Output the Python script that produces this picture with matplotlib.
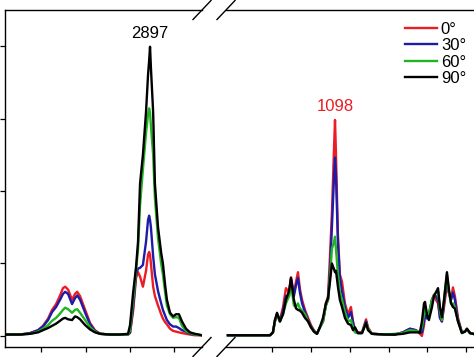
import matplotlib
matplotlib.use("Agg")
import matplotlib.pyplot as plt

plt.rcParams['font.family'] = ['Liberation Sans', 'DejaVu Sans']

# C-H stretching region (left panel), wavenumber / cm-1
ch_wn = [2238, 2305, 2350, 2386, 2408, 2431, 2449, 2467, 2485, 2498,
         2508, 2521, 2539, 2552, 2562, 2575, 2598, 2620, 2642, 2665,
         2710, 2755, 2791, 2800, 2814, 2827, 2836, 2845, 2858, 2872,
         2881, 2886, 2890, 2894, 2904, 2912, 2926, 2940, 2948, 2958,
         2966, 2980, 2994, 3007, 3020, 3034, 3052, 3070, 3092, 3124]
ch_0 = [0.02, 0.02, 0.04, 0.08, 0.14, 0.24, 0.36, 0.44, 0.56, 0.66,
        0.68, 0.64, 0.50, 0.58, 0.61, 0.55, 0.36, 0.18, 0.08, 0.03,
        0.02, 0.02, 0.02, 0.04, 0.35, 0.80, 0.88, 0.82, 0.68, 0.90,
        1.12, 1.16, 1.12, 1.00, 0.68, 0.55, 0.42, 0.30, 0.24, 0.19,
        0.16, 0.10, 0.07, 0.06, 0.05, 0.04, 0.03, 0.02, 0.01, 0.01]
ch_30 = [0.02, 0.02, 0.04, 0.08, 0.13, 0.22, 0.33, 0.40, 0.50, 0.58,
         0.61, 0.58, 0.44, 0.52, 0.56, 0.50, 0.32, 0.16, 0.07, 0.03,
         0.02, 0.02, 0.02, 0.05, 0.40, 0.85, 0.93, 0.94, 0.98, 1.30,
         1.60, 1.66, 1.60, 1.50, 1.10, 0.85, 0.62, 0.45, 0.36, 0.28,
         0.22, 0.16, 0.13, 0.13, 0.11, 0.08, 0.06, 0.03, 0.02, 0.01]
ch_60 = [0.02, 0.02, 0.03, 0.06, 0.10, 0.15, 0.21, 0.25, 0.31, 0.36,
         0.39, 0.37, 0.32, 0.36, 0.37, 0.32, 0.22, 0.12, 0.06, 0.03,
         0.02, 0.02, 0.02, 0.08, 0.50, 0.90, 1.20, 1.80, 2.30, 2.80,
         3.05, 3.14, 3.08, 2.90, 2.50, 1.90, 1.35, 1.00, 0.85, 0.60,
         0.42, 0.30, 0.25, 0.26, 0.25, 0.14, 0.07, 0.04, 0.02, 0.01]
ch_90 = [0.02, 0.02, 0.03, 0.05, 0.08, 0.11, 0.14, 0.17, 0.21, 0.24,
         0.25, 0.23, 0.22, 0.27, 0.26, 0.23, 0.15, 0.09, 0.05, 0.03,
         0.02, 0.02, 0.03, 0.15, 0.60, 0.95, 1.30, 2.10, 2.50, 3.09,
         3.60, 3.80, 3.99, 3.70, 3.09, 2.10, 1.50, 1.15, 1.00, 0.70,
         0.50, 0.32, 0.27, 0.30, 0.30, 0.20, 0.10, 0.05, 0.03, 0.01]

# fingerprint region (right panel)
fp_wn = [572, 686, 789, 804, 814, 825, 840, 856, 871, 887,
         897, 912, 923, 933, 943, 954, 969, 985, 1000, 1015,
         1031, 1046, 1062, 1077, 1088, 1098, 1108, 1119, 1124, 1129,
         1139, 1149, 1160, 1175, 1191, 1206, 1217, 1227, 1242, 1263,
         1284, 1294, 1314, 1381, 1433, 1474, 1510, 1541, 1562, 1572,
         1583, 1588, 1598, 1608, 1624, 1634, 1644, 1655, 1665, 1675,
         1686, 1701, 1711, 1722, 1732, 1742, 1758, 1778, 1794, 1804,
         1820, 1851]
fp_0 = [0.01, 0.01, 0.01, 0.05, 0.20, 0.30, 0.22, 0.40, 0.66, 0.60,
        0.81, 0.59, 0.75, 0.88, 0.65, 0.50, 0.36, 0.25, 0.15, 0.08,
        0.03, 0.12, 0.20, 0.45, 0.55, 1.10, 1.70, 2.60, 2.98, 2.50,
        1.40, 0.85, 0.75, 0.45, 0.30, 0.40, 0.20, 0.08, 0.05, 0.05,
        0.23, 0.12, 0.03, 0.02, 0.02, 0.05, 0.10, 0.08, 0.03, 0.00,
        0.15, 0.30, 0.25, 0.30, 0.50, 0.57, 0.50, 0.45, 0.25, 0.20,
        0.40, 0.70, 0.60, 0.50, 0.67, 0.55, 0.25, 0.05, 0.06, 0.10,
        0.04, 0.02]
fp_30 = [0.01, 0.01, 0.01, 0.05, 0.20, 0.30, 0.20, 0.35, 0.55, 0.55,
         0.78, 0.55, 0.70, 0.80, 0.60, 0.45, 0.33, 0.22, 0.13, 0.07,
         0.03, 0.12, 0.20, 0.42, 0.50, 0.90, 1.50, 2.20, 2.46, 2.20,
         1.30, 0.80, 0.62, 0.40, 0.25, 0.33, 0.18, 0.06, 0.04, 0.04,
         0.20, 0.10, 0.03, 0.02, 0.02, 0.05, 0.10, 0.08, 0.04, 0.05,
         0.20, 0.30, 0.24, 0.30, 0.50, 0.55, 0.55, 0.50, 0.25, 0.20,
         0.45, 0.78, 0.60, 0.50, 0.60, 0.50, 0.22, 0.05, 0.06, 0.09,
         0.04, 0.02]
fp_60 = [0.01, 0.01, 0.01, 0.05, 0.20, 0.30, 0.20, 0.30, 0.45, 0.55,
         0.72, 0.42, 0.40, 0.45, 0.38, 0.35, 0.30, 0.20, 0.12, 0.07,
         0.03, 0.12, 0.20, 0.42, 0.50, 0.80, 1.20, 1.30, 1.37, 1.20,
         0.85, 0.60, 0.50, 0.33, 0.20, 0.22, 0.12, 0.05, 0.04, 0.04,
         0.18, 0.10, 0.03, 0.02, 0.03, 0.04, 0.08, 0.07, 0.06, 0.12,
         0.30, 0.38, 0.30, 0.30, 0.50, 0.55, 0.60, 0.62, 0.35, 0.22,
         0.50, 0.85, 0.60, 0.45, 0.45, 0.40, 0.20, 0.05, 0.06, 0.09,
         0.04, 0.02]
fp_90 = [0.01, 0.01, 0.01, 0.05, 0.22, 0.32, 0.20, 0.30, 0.50, 0.62,
         0.80, 0.50, 0.38, 0.36, 0.35, 0.32, 0.25, 0.20, 0.12, 0.06,
         0.03, 0.12, 0.25, 0.45, 0.52, 0.75, 1.00, 0.92, 0.88, 0.90,
         0.68, 0.50, 0.40, 0.25, 0.17, 0.15, 0.08, 0.12, 0.04, 0.04,
         0.18, 0.08, 0.03, 0.02, 0.02, 0.03, 0.05, 0.05, 0.05, 0.20,
         0.45, 0.47, 0.30, 0.22, 0.40, 0.55, 0.60, 0.66, 0.40, 0.26,
         0.50, 0.88, 0.65, 0.45, 0.40, 0.38, 0.20, 0.04, 0.06, 0.10,
         0.04, 0.02]

labels = ["0°", "30°", "60°", "90°"]
colors = ["#ec1c24", "#1c1ca8", "#22b422", "#000000"]

W, H = 474, 357
fig = plt.figure(figsize=(W / 100, H / 100), dpi=100)
ax1 = fig.add_axes([5 / W, 10 / H, 197 / W, 337 / H])
ax2 = fig.add_axes([226 / W, 10 / H, 264 / W, 337 / H])

for ys, c in zip([ch_0, ch_30, ch_60, ch_90], colors):
    ax1.plot(ch_wn, ys, color=c, lw=1.7)
for ys, c, lab in zip([fp_0, fp_30, fp_60, fp_90], colors, labels):
    ax2.plot(fp_wn, ys, color=c, lw=1.7, label=lab)

ax1.set_xlim(2237, 3124)
ax2.set_xlim(562, 1923)
for ax in (ax1, ax2):
    ax.set_ylim(-0.152, 4.497)
    ax.tick_params(direction='out', length=3.6, width=0.9,
                   labelbottom=False, labelleft=False)
    for sp in ax.spines.values():
        sp.set_linewidth(1.0)
ax1.set_xticks([2400, 2600, 2800, 3000])
ax1.set_yticks([0, 1, 2, 3, 4])
ax2.set_xticks([800, 1000, 1200, 1400, 1600, 1800])
ax2.set_yticks([])
ax1.spines['right'].set_visible(False)
ax2.spines['left'].set_visible(False)
ax2.spines['right'].set_visible(False)

# axis break marks
for ax, xc, w in ((ax1, 1, 197), (ax2, 0, 264)):
    dx, dy = 9 / w, 9.5 / 337
    for yc in (0, 1):
        ax.plot([xc - dx, xc + dx], [yc - dy, yc + dy], color='black',
                lw=1.0, transform=ax.transAxes, clip_on=False)

ax1.text(2890, 4.17, "2897", ha='center', va='center', fontsize=12)
ax2.text(1124, 3.16, "1098", ha='center', va='center', fontsize=12,
         color=colors[0])

ax2.legend(loc='upper left', bbox_to_anchor=(405 / W, 1 - 22 / H),
           bbox_transform=fig.transFigure, frameon=False, fontsize=12,
           borderpad=0, borderaxespad=0, handlelength=1.9,
           handletextpad=0.25, labelspacing=0.08)

fig.savefig("out.png", dpi=100)
